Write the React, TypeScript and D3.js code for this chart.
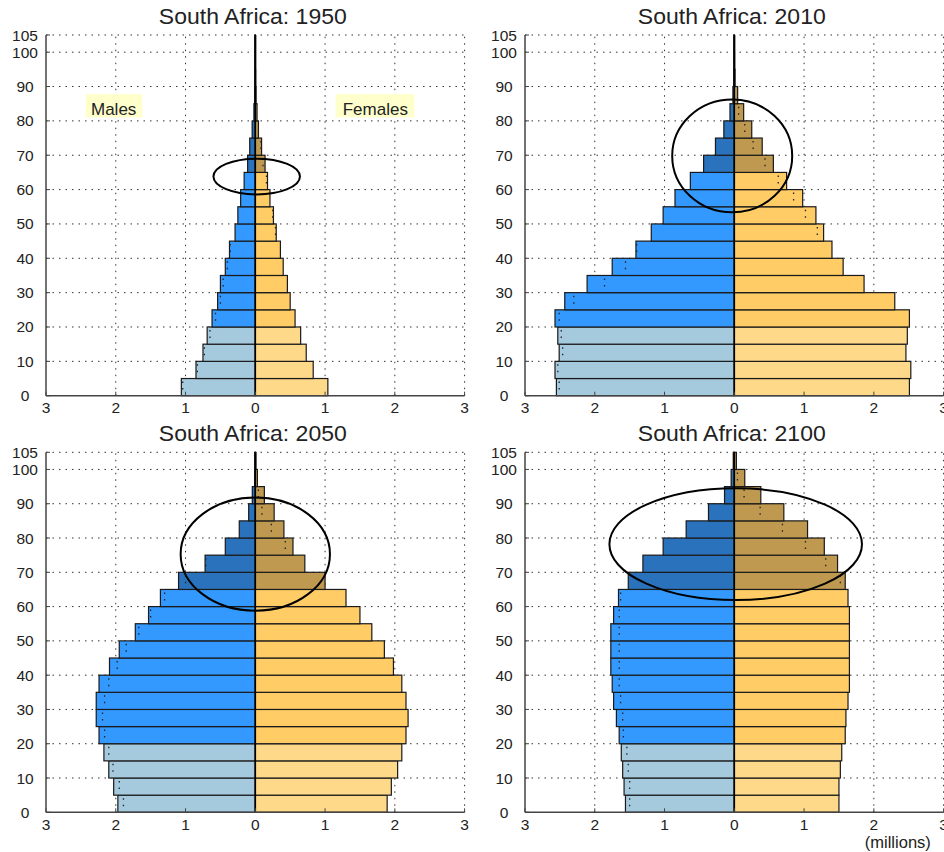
import React from 'react';
import * as d3 from 'd3';

const ageStarts = [0, 5, 10, 15, 20, 25, 30, 35, 40, 45, 50, 55, 60, 65, 70, 75, 80, 85, 90, 95, 100];
const yTicks = [0, 10, 20, 30, 40, 50, 60, 70, 80, 90, 100, 105];
const xTicks = [-3, -2, -1, 0, 1, 2, 3];
const xTickLabels = ['3', '2', '1', '0', '1', '2', '3'];
const years = ['1950', '2010', '2050', '2100'];

const males1950 = [1.06, 0.85, 0.75, 0.69, 0.62, 0.54, 0.50, 0.43, 0.37, 0.29, 0.25, 0.21, 0.16, 0.11, 0.08, 0.045, 0.02, 0.01, 0.004, 0.001, 0.0005];
const females1950 = [1.04, 0.83, 0.73, 0.65, 0.57, 0.50, 0.46, 0.40, 0.36, 0.30, 0.26, 0.21, 0.175, 0.14, 0.09, 0.045, 0.025, 0.01, 0.004, 0.001, 0.0005];
const males2010 = [2.55, 2.57, 2.51, 2.53, 2.57, 2.43, 2.11, 1.75, 1.41, 1.19, 1.02, 0.85, 0.63, 0.44, 0.27, 0.15, 0.062, 0.02, 0.006, 0.002, 0.0005];
const females2010 = [2.51, 2.53, 2.46, 2.48, 2.51, 2.30, 1.86, 1.56, 1.40, 1.28, 1.17, 0.98, 0.75, 0.56, 0.40, 0.25, 0.134, 0.048, 0.01, 0.003, 0.0005];
const males2050 = [1.97, 2.03, 2.10, 2.17, 2.24, 2.28, 2.28, 2.24, 2.09, 1.95, 1.72, 1.53, 1.36, 1.10, 0.72, 0.43, 0.23, 0.095, 0.043, 0.01, 0.004];
const females2050 = [1.89, 1.95, 2.04, 2.10, 2.16, 2.19, 2.16, 2.10, 1.98, 1.85, 1.67, 1.50, 1.30, 1.00, 0.71, 0.54, 0.41, 0.27, 0.13, 0.03, 0.008];
const males2100 = [1.56, 1.58, 1.60, 1.62, 1.65, 1.69, 1.73, 1.75, 1.77, 1.77, 1.77, 1.73, 1.66, 1.52, 1.31, 1.02, 0.69, 0.37, 0.14, 0.045, 0.015];
const females2100 = [1.50, 1.50, 1.52, 1.54, 1.59, 1.60, 1.63, 1.65, 1.65, 1.65, 1.65, 1.65, 1.63, 1.59, 1.48, 1.29, 1.05, 0.71, 0.38, 0.15, 0.03];

// highlight ellipses (data units): centre x, centre age, radius x (millions), radius y (years)
const ellipseCx = [0.02, -0.03, 0.0, 0.02];
const ellipseCy = [63.8, 69.8, 75.3, 78.2];
const ellipseRx = [0.62, 0.86, 1.07, 1.81];
const ellipseRy = [5.2, 16.4, 16.5, 16.3];

const maleData = [males1950, males2010, males2050, males2100];
const femaleData = [females1950, females2010, females2050, females2100];

const FONT = 'Liberation Sans, Arial, Helvetica, sans-serif';

const COLORS = {
  maleYoung: '#a6cadd',
  maleWork: '#3399ff',
  maleOld: '#2a72bb',
  femaleYoung: '#ffd98a',
  femaleWork: '#ffcc66',
  femaleOld: '#bf994f',
};

function colorFor(sex: 'm' | 'f', age: number) {
  if (sex === 'm') return age < 20 ? COLORS.maleYoung : age < 65 ? COLORS.maleWork : COLORS.maleOld;
  return age < 20 ? COLORS.femaleYoung : age < 65 ? COLORS.femaleWork : COLORS.femaleOld;
}

const panelBoxes = [
  { x0: 46, x1: 464.6, yTop: 35, yBottom: 395.7, titleY: 24 },
  { x0: 525, x1: 943.6, yTop: 35, yBottom: 395.7, titleY: 24 },
  { x0: 46, x1: 464.6, yTop: 452.3, yBottom: 812.3, titleY: 440.7 },
  { x0: 525, x1: 943.6, yTop: 452.3, yBottom: 812.3, titleY: 440.7 },
];

function Panel({ idx }: { idx: number }) {
  const box = panelBoxes[idx];
  const x = d3.scaleLinear().domain([-3, 3]).range([box.x0, box.x1]);
  const y = d3.scaleLinear().domain([0, 105]).range([box.yBottom, box.yTop]);
  const males = maleData[idx];
  const females = femaleData[idx];
  const gridDash = '1.5,5';

  return (
    <g>
      <text
        x={x(0) - 2.5}
        y={box.titleY}
        textAnchor="middle"
        fontFamily={FONT}
        fontSize={21.5}
        fill="#222"
        transform={`translate(${x(0) - 2.5},0) scale(1.07,1) translate(${-(x(0) - 2.5)},0)`}
      >
        {`South Africa: ${years[idx]}`}
      </text>
      {/* grid */}
      {yTicks.filter((t) => t > 0).map((t) => (
        <line key={'hy' + t} x1={x(-3)} x2={x(3)} y1={y(t)} y2={y(t)} stroke="#333" strokeWidth={1} strokeDasharray={gridDash} />
      ))}
      {xTicks.filter((t) => t > -3).map((t) => (
        <line key={'vx' + t} x1={x(t)} x2={x(t)} y1={y(0)} y2={y(105)} stroke="#333" strokeWidth={1} strokeDasharray={gridDash} />
      ))}
      {/* centre line */}
      <line x1={x(0)} x2={x(0)} y1={y(0)} y2={y(105)} stroke="#000" strokeWidth={2} />
      {/* bars */}
      {ageStarts.map((a, i) => {
        const top = y(a + 5);
        const h = y(a) - y(a + 5);
        return (
          <g key={'b' + a}>
            <rect x={x(-males[i])} y={top} width={x(0) - x(-males[i])} height={h} fill={colorFor('m', a)} stroke="#1a1a1a" strokeWidth={1.2} />
            <rect x={x(0)} y={top} width={x(females[i]) - x(0)} height={h} fill={colorFor('f', a)} stroke="#1a1a1a" strokeWidth={1.2} />
          </g>
        );
      })}
      <line x1={x(0)} x2={x(0)} y1={y(0)} y2={y(105)} stroke="#000" strokeWidth={1.6} />
      {/* opposite-sex comparison markers (dotted), shown inside the bars */}
      {ageStarts.map((a, i) => {
        const top = y(a + 5) + 3;
        const bot = y(a) - 2;
        return (
          <g key={'m' + a}>
            {females[i] > 0.03 && females[i] < males[i] - 0.008 && (
              <line x1={x(-females[i])} x2={x(-females[i])} y1={top} y2={bot} stroke="#222" strokeWidth={1.3} strokeDasharray="1.5,5" />
            )}
            {males[i] > 0.03 && males[i] < females[i] - 0.008 && (
              <line x1={x(males[i])} x2={x(males[i])} y1={top} y2={bot} stroke="#222" strokeWidth={1.3} strokeDasharray="1.5,5" />
            )}
          </g>
        );
      })}
      {/* axes */}
      <line x1={x(-3)} x2={x(-3)} y1={y(0)} y2={y(105)} stroke="#444" strokeWidth={1.5} />
      <line x1={x(-3)} x2={x(3)} y1={y(0)} y2={y(0)} stroke="#444" strokeWidth={1.5} />
      {yTicks.map((t) => (
        <g key={'yt' + t}>
          <line x1={x(-3)} x2={x(-3) + 4} y1={y(t)} y2={y(t)} stroke="#444" strokeWidth={1} />
          <text x={x(-3) - 21} y={y(t) + 5.5} textAnchor="middle" fontFamily={FONT} fontSize={15.5} fill="#222">
            {t}
          </text>
        </g>
      ))}
      {xTicks.map((t, i) => (
        <g key={'xt' + t}>
          <line x1={x(t)} x2={x(t)} y1={y(0)} y2={y(0) - 4} stroke="#444" strokeWidth={1} />
          <text x={x(t)} y={y(0) + 17.5} textAnchor="middle" fontFamily={FONT} fontSize={15.5} fill="#222">
            {xTickLabels[i]}
          </text>
        </g>
      ))}
      {/* highlight ellipse */}
      <ellipse
        cx={x(ellipseCx[idx])}
        cy={y(ellipseCy[idx])}
        rx={x(ellipseRx[idx]) - x(0)}
        ry={y(0) - y(ellipseRy[idx])}
        fill="none"
        stroke="#000"
        strokeWidth={2}
      />
      {idx === 0 && (
        <g>
          <rect x={x(-2.43)} y={y(87.8)} width={x(-1.62) - x(-2.43)} height={y(81.0) - y(87.8)} fill="#ffffcc" />
          <text x={x(-2.03)} y={y(81.8)} textAnchor="middle" fontFamily={FONT} fontSize={17} fill="#222">Males</text>
          <rect x={x(1.15)} y={y(87.8)} width={x(2.28) - x(1.15)} height={y(81.0) - y(87.8)} fill="#ffffcc" />
          <text x={x(1.72)} y={y(81.8)} textAnchor="middle" fontFamily={FONT} fontSize={17} fill="#222">Females</text>
        </g>
      )}
      {idx === 3 && (
        <text x={897.8} y={848} textAnchor="middle" fontFamily={FONT} fontSize={16.5} fill="#222">(millions)</text>
      )}
    </g>
  );
}

export default function App() {
  return (
    <svg width={944} height={852} style={{ position: 'absolute', left: 0, top: 0, background: '#fff' }}>
      <rect x={0} y={0} width={944} height={852} fill="#fff" />
      {[0, 1, 2, 3].map((i) => (
        <Panel key={i} idx={i} />
      ))}
    </svg>
  );
}
